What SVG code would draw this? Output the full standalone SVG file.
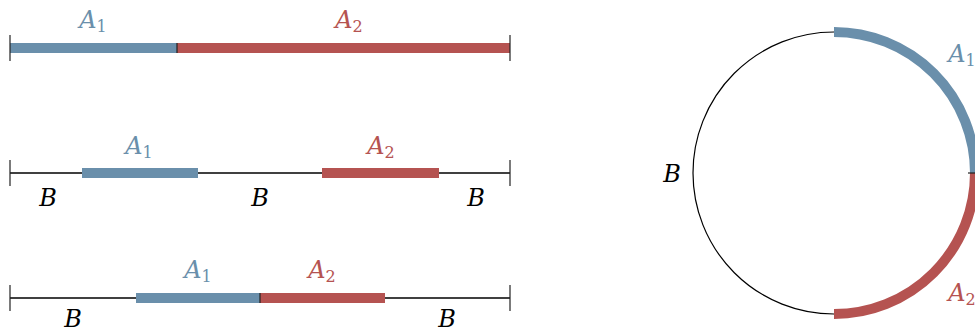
<svg xmlns="http://www.w3.org/2000/svg" width="975" height="334" viewBox="0 0 975 334">
<style>
.base{stroke:#000;stroke-width:1.6;fill:none}
.tick{stroke:#222;stroke-width:1.2}
.blue{stroke:#6a8fab;stroke-width:10;fill:none}
.red{stroke:#b55351;stroke-width:10;fill:none}
.lbl{font-family:"DejaVu Serif","Liberation Serif",serif;font-size:24px;text-anchor:middle}
.v{font-style:italic}
.s{font-size:16px}
.tb{fill:#6a8fab}
.tr{fill:#b55351}
.tk{fill:#000}
</style>
<rect width="975" height="334" fill="#fff"/>
<g id="row1">
  <line class="blue" x1="10" y1="48" x2="177" y2="48"/>
  <line class="red" x1="177" y1="48" x2="510" y2="48"/>
  <line class="tick" x1="10" y1="35" x2="10" y2="61"/>
  <line class="tick" x1="510" y1="35" x2="510" y2="61"/>
  <line class="tick" x1="177" y1="43" x2="177" y2="53"/>
  <text class="lbl tb" x="93" y="28"><tspan class="v">A</tspan><tspan class="s" dy="4">1</tspan></text>
  <text class="lbl tr" x="349" y="28"><tspan class="v">A</tspan><tspan class="s" dy="4">2</tspan></text>
</g>
<g id="row2">
  <line class="base" x1="10" y1="173" x2="510" y2="173"/>
  <line class="blue" x1="82" y1="173" x2="198" y2="173"/>
  <line class="red" x1="322" y1="173" x2="439" y2="173"/>
  <line class="tick" x1="10" y1="160" x2="10" y2="186"/>
  <line class="tick" x1="510" y1="160" x2="510" y2="186"/>
  <text class="lbl tb" x="139" y="154"><tspan class="v">A</tspan><tspan class="s" dy="4">1</tspan></text>
  <text class="lbl tr" x="381" y="154"><tspan class="v">A</tspan><tspan class="s" dy="4">2</tspan></text>
  <text class="lbl tk" x="48" y="206"><tspan class="v">B</tspan></text>
  <text class="lbl tk" x="260" y="206"><tspan class="v">B</tspan></text>
  <text class="lbl tk" x="476" y="206"><tspan class="v">B</tspan></text>
</g>
<g id="row3">
  <line class="base" x1="10" y1="298" x2="510" y2="298"/>
  <line class="blue" x1="136" y1="298" x2="260" y2="298"/>
  <line class="red" x1="260" y1="298" x2="385" y2="298"/>
  <line class="tick" x1="10" y1="285" x2="10" y2="311"/>
  <line class="tick" x1="510" y1="285" x2="510" y2="311"/>
  <line class="tick" x1="260" y1="293" x2="260" y2="303"/>
  <text class="lbl tb" x="198" y="278"><tspan class="v">A</tspan><tspan class="s" dy="4">1</tspan></text>
  <text class="lbl tr" x="322" y="278"><tspan class="v">A</tspan><tspan class="s" dy="4">2</tspan></text>
  <text class="lbl tk" x="73" y="327"><tspan class="v">B</tspan></text>
  <text class="lbl tk" x="447" y="327"><tspan class="v">B</tspan></text>
</g>
<g id="circle">
  <circle class="base" cx="834" cy="173" r="141" style="stroke-width:1.2"/>
  <path class="blue" d="M834 32 A141 141 0 0 1 975 173"/>
  <path class="red" d="M975 173 A141 141 0 0 1 834 314"/>
  <line class="tick" x1="968" y1="173" x2="975" y2="173"/>
  <text class="lbl tk" x="672" y="182"><tspan class="v">B</tspan></text>
  <text class="lbl tb" x="962" y="62"><tspan class="v">A</tspan><tspan class="s" dy="4">1</tspan></text>
  <text class="lbl tr" x="962" y="301"><tspan class="v">A</tspan><tspan class="s" dy="4">2</tspan></text>
</g>
</svg>
